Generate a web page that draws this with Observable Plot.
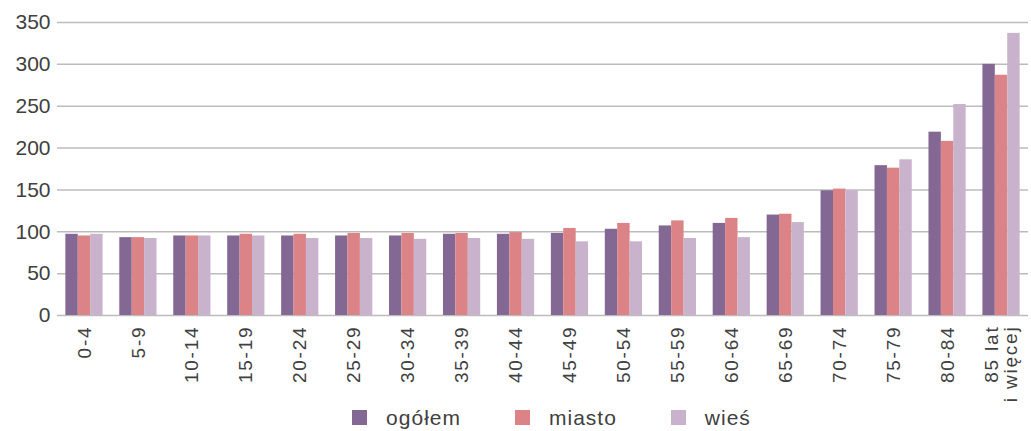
<!DOCTYPE html>
<html>
<head>
<meta charset="utf-8">
<script src="https://cdn.jsdelivr.net/npm/d3@7"></script>
<script src="https://cdn.jsdelivr.net/npm/@observablehq/plot@0.6"></script>
<style>
  html, body { margin: 0; padding: 0; background: #fff; }
  body { width: 1031px; height: 431px; overflow: hidden; font-family: "Liberation Sans", Arial, sans-serif; }
  #chart svg { display: block; }
  #legend { display: flex; justify-content: center; align-items: center; height: 27px; padding-top: 0px; padding-left: 72px; font-size: 21px; color: #404040; letter-spacing: 1px; }
  #legend .item { display: flex; align-items: center; margin: 0 27px; }
  #legend .sw { width: 15px; height: 15px; margin-right: 19px; }
</style>
</head>
<body>
<div id="chart"></div>
<div id="legend"></div>
<script>
const ages = ["0-4","5-9","10-14","15-19","20-24","25-29","30-34","35-39","40-44","45-49","50-54","55-59","60-64","65-69","70-74","75-79","80-84","85 lat\ni więcej"];
const ogolem = [97,93,95,95,95,95,95,97,97,98,103,107,110,120,149,179,219,300];
const miasto = [95,93,95,97,97,98,98,98,99,104,110,113,116,121,151,176,208,287];
const wies   = [97,92,95,95,92,92,91,92,91,88,88,92,93,111,149,186,252,337];
const seriesNames = ["ogółem","miasto","wieś"];
const seriesColors = ["#826893","#db8386","#c9b2cc"];
const yTicks = [0,50,100,150,200,250,300,350];

const seriesValues = [ogolem, miasto, wies];
const width = 1031, height = 404;
const marginLeft = 57, marginRight = 3;
const step = (width - marginLeft - marginRight) / ages.length;
const groupW = step * 0.69;
const barW = groupW / 3;
const off = (step - groupW) / 2;

const barMarks = seriesValues.map((vals, k) =>
  Plot.barY(ages.map((a, i) => ({age: a, value: vals[i]})), {
    x: "age", y: "value", fill: seriesColors[k],
    insetLeft: off + barW * k,
    insetRight: step - (off + barW * (k + 1))
  })
);

const chart = Plot.plot({
  width, height,
  marginLeft, marginRight, marginTop: 22, marginBottom: 89,
  style: { fontFamily: "Liberation Sans, Arial, sans-serif", color: "#404040", background: "#fff" },
  x: { domain: ages, padding: 0, round: false, label: null },
  y: { domain: [0, 350], label: null },
  marks: [
    Plot.ruleY(yTicks, { stroke: "#bcbcbc", strokeWidth: 1.5 }),
    ...barMarks,
    Plot.axisY({ ticks: yTicks, tickSize: 0, tickPadding: 7, fontSize: 21, label: null }),
    Plot.axisX({ tickSize: 0, tickPadding: 10, tickRotate: -90, fontSize: 19, label: null })
  ]
});
document.getElementById("chart").appendChild(chart);
chart.querySelectorAll('[aria-label="x-axis tick label"] text').forEach(t => t.style.letterSpacing = "1.8px");

const legend = document.getElementById("legend");
seriesNames.forEach((n, k) => {
  const it = document.createElement("div");
  it.className = "item";
  const sw = document.createElement("div");
  sw.className = "sw";
  sw.style.background = seriesColors[k];
  const tx = document.createElement("span");
  tx.textContent = n;
  it.appendChild(sw); it.appendChild(tx);
  legend.appendChild(it);
});
</script>
</body>
</html>
